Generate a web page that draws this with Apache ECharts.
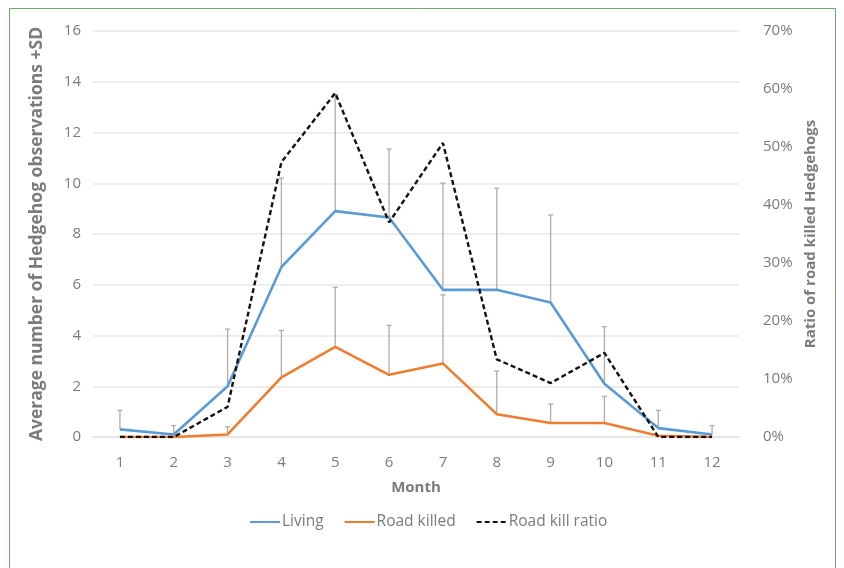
<!DOCTYPE html>
<html>
<head>
<meta charset="utf-8">
<script src="https://cdn.jsdelivr.net/npm/echarts@6/dist/echarts.min.js"></script>
<style>
  html, body { margin: 0; padding: 0; background: #fff; }
  #chart { width: 844px; height: 568px; }
</style>
</head>
<body>
<div id="chart"></div>
<script>
const months = ['1', '2', '3', '4', '5', '6', '7', '8', '9', '10', '11', '12']
const living = [0.3, 0.1, 2.0, 6.7, 8.9, 8.65, 5.8, 5.8, 5.3, 2.1, 0.35, 0.1]
const livingTop = [1.05, 0.45, 4.25, 10.2, 13.5, 11.35, 10.0, 9.8, 8.75, 4.35, 1.05, 0.45]
const killed = [0, 0, 0.1, 2.35, 3.55, 2.45, 2.9, 0.9, 0.55, 0.55, 0.05, 0]
const killedTop = [null, null, 0.4, 4.2, 5.9, 4.4, 5.6, 2.6, 1.3, 1.6, null, null]
const ratio = [0, 0, 5.2, 47.4, 59.3, 37, 50.7, 13.4, 9.3, 14.5, 0, 0]

const txt = '#7b7b7b'
const font = 'Open Sans'

function errorData(base, top) {
  let arr = []
  for (let i = 0; i < base.length; i++) {
    if (top[i] != null) arr.push([i, base[i], top[i]])
  }
  return arr
}

function renderBar(params, api) {
  let p0 = api.coord([api.value(0), api.value(1)])
  let p1 = api.coord([api.value(0), api.value(2)])
  let style = { stroke: '#b3a9a9', lineWidth: 1.3 }
  return {
    type: 'group',
    children: [
      { type: 'line', shape: { x1: p0[0], y1: p0[1], x2: p1[0], y2: p1[1] }, style: style },
      { type: 'line', shape: { x1: p1[0] - 2.5, y1: p1[1], x2: p1[0] + 2.5, y2: p1[1] }, style: style }
    ]
  }
}

let chart = echarts.init(document.getElementById('chart'), null, { renderer: 'canvas' })
let option = {
  backgroundColor: '#fff',
  animation: false,
  graphic: [{
    type: 'rect',
    shape: { x: 9.5, y: 8.5, width: 826, height: 580 },
    style: { fill: null, stroke: '#6aaa64', lineWidth: 1 }
  }],
  grid: { left: 93, right: 105, top: 31, bottom: 131 },
  legend: {
    data: ['Living', 'Road killed', 'Road kill ratio'],
    bottom: 33,
    left: 244,
    itemWidth: 30,
    itemHeight: 10,
    itemGap: 20,
    itemStyle: { opacity: 0 },
    textStyle: { color: txt, fontSize: 15.5, fontFamily: font, padding: [0, 0, 0, -3] }
  },
  xAxis: {
    type: 'category',
    data: months,
    boundaryGap: true,
    name: 'Month',
    nameLocation: 'middle',
    nameGap: 43,
    nameTextStyle: { color: txt, fontSize: 15, fontWeight: 'bold', fontFamily: font },
    axisLine: { show: true, lineStyle: { color: '#e3e3e3', width: 1.5 } },
    axisTick: { show: false },
    axisLabel: { color: txt, fontSize: 15, fontFamily: font, margin: 18 }
  },
  yAxis: [{
    type: 'value',
    min: 0,
    max: 16,
    interval: 2,
    name: 'Average number of Hedgehog observations +SD',
    nameLocation: 'middle',
    nameGap: 47,
    nameTextStyle: { color: txt, fontSize: 17.5, fontWeight: 'bold', fontFamily: font },
    axisLine: { show: false },
    axisTick: { show: false },
    axisLabel: { color: txt, fontSize: 15, fontFamily: font, margin: 12 },
    splitLine: { lineStyle: { color: '#e8e8e8', width: 1.5 } }
  }, {
    type: 'value',
    min: 0,
    max: 70,
    interval: 10,
    name: 'Ratio of road killed Hedgehogs',
    nameLocation: 'middle',
    nameGap: 58,
    nameTextStyle: { color: txt, fontSize: 15, fontWeight: 'bold', fontFamily: font },
    axisLine: { show: false },
    axisTick: { show: false },
    axisLabel: { color: txt, fontSize: 15, fontFamily: font, margin: 24, formatter: '{value}%' },
    splitLine: { show: false }
  }],
  series: [{
    name: 'Living SD',
    type: 'custom',
    renderItem: renderBar,
    data: errorData(living, livingTop),
    z: 1
  }, {
    name: 'Road killed SD',
    type: 'custom',
    renderItem: renderBar,
    data: errorData(killed, killedTop),
    z: 1
  }, {
    name: 'Living',
    type: 'line',
    data: living,
    symbol: 'none',
    color: '#5b9bd5',
    lineStyle: { width: 2.6, color: '#5b9bd5' },
    z: 3
  }, {
    name: 'Road killed',
    type: 'line',
    data: killed,
    symbol: 'none',
    color: '#ed7d31',
    lineStyle: { width: 2.6, color: '#ed7d31' },
    z: 3
  }, {
    name: 'Road kill ratio',
    type: 'line',
    yAxisIndex: 1,
    data: ratio,
    symbol: 'none',
    color: '#111',
    lineStyle: { width: 2.4, color: '#111', type: [5, 3] },
    z: 4
  }]
}
chart.setOption(option)
</script>
</body>
</html>
